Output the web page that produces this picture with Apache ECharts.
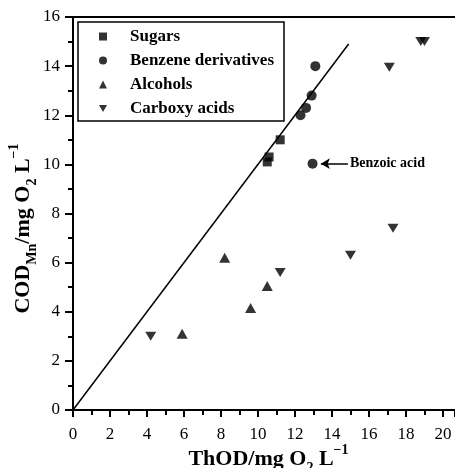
<!DOCTYPE html>
<html>
<head>
<meta charset="utf-8">
<script src="https://cdn.jsdelivr.net/npm/echarts@6/dist/echarts.min.js"></script>
<style>
  html, body { margin: 0; padding: 0; background: #fff; }
  #chart { width: 455px; height: 468px; }
</style>
</head>
<body>
<div id="chart"></div>
<script>
// data: [ThOD, CODMn]
const sugars = [[11.2, 11.0], [10.6, 10.3], [10.5, 10.1]];
const benzene = [[13.1, 14.0], [12.9, 12.8], [12.6, 12.3], [12.3, 12.0], [12.95, 10.03]];
const alcohols = [[5.9, 3.1], [8.2, 6.2], [9.6, 4.15], [10.5, 5.05]];
const carboxy = [[4.2, 3.0], [11.2, 5.6], [15.0, 6.3], [17.3, 7.4], [17.1, 13.95], [18.8, 15.0], [19.0, 15.0]];
const fitLine = [[0, 0], [14.9, 14.9]];
const seriesNames = ['Sugars', 'Benzene derivatives', 'Alcohols', 'Carboxy acids'];

const serif = 'Liberation Serif, Times New Roman, serif';
const downTri = 'path://M0,0 L10,0 L5,9 Z';

const myChart = echarts.init(document.getElementById('chart'));

const nameRich = {
  b: { fontFamily: serif, fontWeight: 'bold', fontSize: 22, color: '#000', lineHeight: 32 },
  s: { fontFamily: serif, fontWeight: 'bold', fontSize: 14, color: '#000', verticalAlign: 'bottom', lineHeight: 32 },
  p: { fontFamily: serif, fontWeight: 'bold', fontSize: 14, color: '#000', verticalAlign: 'top', lineHeight: 32 }
};

const option = {
  animation: false,
  grid: { left: 73, top: 17, right: 0, bottom: 58, outerBoundsMode: 'none', containLabel: false },
  legend: {
    orient: 'vertical',
    left: 78,
    top: 22,
    padding: [6, 10, 4, 21],
    itemGap: 7,
    itemWidth: 8,
    itemHeight: 8,
    borderColor: '#000',
    borderWidth: 1.5,
    textStyle: { fontFamily: serif, fontWeight: 'bold', fontSize: 17, color: '#000', lineHeight: 17, padding: [0, 0, 0, 18] },
    data: [
      { name: seriesNames[0], icon: 'rect' },
      { name: seriesNames[1], icon: 'circle' },
      { name: seriesNames[2], icon: 'triangle' },
      { name: seriesNames[3], icon: downTri }
    ]
  },
  xAxis: [
    {
      type: 'value',
      min: 0,
      max: 20.65,
      interval: 2,
      name: '{b|ThOD/mg O}{s|2}{b| L}{p|\u22121}',
      nameLocation: 'middle',
      nameGap: 33,
      nameMoveOverlap: false,
      nameTextStyle: { rich: nameRich, padding: [0, 0, 0, 9] },
      axisLine: { lineStyle: { color: '#000', width: 2 } },
      axisTick: { length: 7, lineStyle: { color: '#000', width: 2 } },
      minorTick: { show: true, splitNumber: 2, length: 5, lineStyle: { color: '#000', width: 2 } },
      splitLine: { show: false },
      axisLabel: { showMaxLabel: false, margin: 16, fontFamily: serif, fontSize: 17, color: '#000' }
    },
    {
      type: 'value',
      position: 'top',
      min: 0,
      max: 20.65,
      axisLine: { show: true, lineStyle: { color: '#000', width: 2 } },
      axisTick: { show: false },
      axisLabel: { show: false },
      splitLine: { show: false }
    }
  ],
  yAxis: {
    type: 'value',
    min: 0,
    max: 16,
    interval: 2,
    name: '{b|COD}{s|Mn}{b|/mg O}{s|2}{b| L}{p|\u22121}',
    nameLocation: 'middle',
    nameGap: 34,
    nameMoveOverlap: false,
    nameTextStyle: { rich: nameRich, padding: [0, 30, 0, 0] },
    axisLine: { show: true, lineStyle: { color: '#000', width: 2 } },
    axisTick: { length: 8, lineStyle: { color: '#000', width: 2 } },
    minorTick: { show: true, splitNumber: 2, length: 5, lineStyle: { color: '#000', width: 2 } },
    splitLine: { show: false },
    axisLabel: { margin: 13, fontFamily: serif, fontSize: 17, color: '#000' }
  },
  series: [
    {
      type: 'line',
      data: fitLine,
      symbol: 'none',
      silent: true,
      lineStyle: { color: '#000', width: 1.5 },
      z: 1
    },
    {
      name: seriesNames[0],
      type: 'scatter',
      symbol: 'rect',
      symbolSize: 9,
      itemStyle: { color: '#000' },
      data: sugars
    },
    {
      name: seriesNames[1],
      type: 'scatter',
      symbol: 'circle',
      symbolSize: 10,
      itemStyle: { color: '#000' },
      data: benzene,
      markLine: {
        silent: true,
        symbol: ['none', 'arrow'],
        symbolSize: [8, 9],
        lineStyle: { color: '#000', width: 1.5, type: 'solid' },
        label: {
          show: true,
          position: 'start',
          distance: 2,
          formatter: 'Benzoic acid',
          fontFamily: serif,
          fontWeight: 'bold',
          fontSize: 14,
          color: '#000'
        },
        data: [[{ coord: [14.86, 10.03] }, { coord: [13.4, 10.03] }]]
      }
    },
    {
      name: seriesNames[2],
      type: 'scatter',
      symbol: 'triangle',
      symbolSize: [11, 10],
      itemStyle: { color: '#000' },
      data: alcohols
    },
    {
      name: seriesNames[3],
      type: 'scatter',
      symbol: downTri,
      symbolSize: [11, 9],
      itemStyle: { color: '#000' },
      data: carboxy
    }
  ]
};
myChart.setOption(option);
</script>
</body>
</html>
